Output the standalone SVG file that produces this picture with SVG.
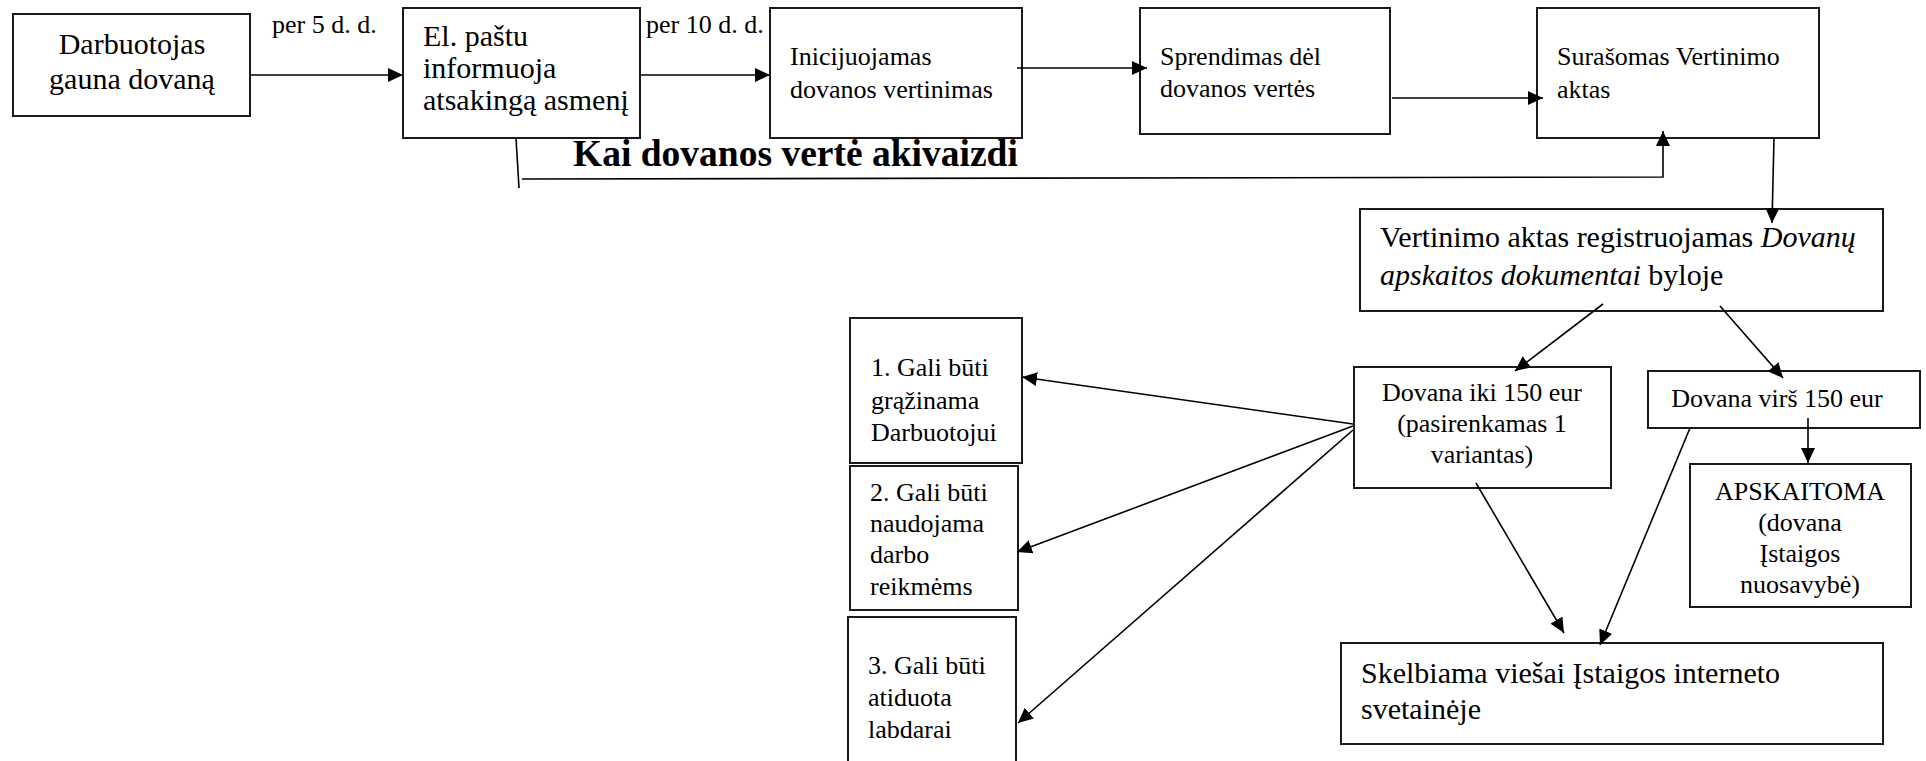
<svg xmlns="http://www.w3.org/2000/svg" width="1926" height="761" viewBox="0 0 1926 761">
<style>
  .box { fill: #ffffff; stroke: #1a1a1a; stroke-width: 2; }
  .t { font-family: "Liberation Serif", "Times New Roman", serif; fill: #000; }
  .t30 { font-size: 30px; }
  .t26 { font-size: 26px; }
  .bold { font-weight: bold; font-size: 37.5px; }
  .c { text-anchor: middle; }
  .ln { fill: none; stroke: #000; stroke-width: 1.6; }
</style>
<defs>
  <marker id="ah" markerUnits="userSpaceOnUse" markerWidth="16" markerHeight="14" refX="15" refY="7" orient="auto">
    <path d="M0,0 L15,7 L0,14 z" fill="#000"/>
  </marker>
</defs>
<rect width="1926" height="761" fill="#ffffff"/>

<g id="n1">
  <rect class="box" x="13" y="14" width="237" height="102"/>
  <text class="t t30 c" x="132" y="54">Darbuotojas</text>
  <text class="t t30 c" x="132" y="89">gauna dovaną</text>
</g>
<g id="n2">
  <rect class="box" x="403" y="8" width="237" height="130"/>
  <text class="t t30" x="423" y="46">El. paštu</text>
  <text class="t t30" x="423" y="78">informuoja</text>
  <text class="t t30" x="423" y="110">atsakingą asmenį</text>
</g>
<g id="n3">
  <rect class="box" x="770" y="8" width="252" height="130"/>
  <text class="t t26" x="790" y="65">Inicijuojamas</text>
  <text class="t t26" x="790" y="98">dovanos vertinimas</text>
</g>
<g id="n4">
  <rect class="box" x="1140" y="8" width="250" height="126"/>
  <text class="t t26" x="1160" y="65">Sprendimas dėl</text>
  <text class="t t26" x="1160" y="97">dovanos vertės</text>
</g>
<g id="n5">
  <rect class="box" x="1537" y="8" width="282" height="130"/>
  <text class="t t26" x="1557" y="65">Surašomas Vertinimo</text>
  <text class="t t26" x="1557" y="98">aktas</text>
</g>
<g id="n6">
  <rect class="box" x="1360" y="209" width="523" height="102"/>
  <text class="t t30" x="1380" y="247">Vertinimo aktas registruojamas <tspan font-style="italic">Dovanų</tspan></text>
  <text class="t t30" x="1380" y="285"><tspan font-style="italic">apskaitos dokumentai</tspan> byloje</text>
</g>
<g id="n7">
  <rect class="box" x="1354" y="367" width="257" height="121"/>
  <text class="t t26 c" x="1482" y="401">Dovana iki 150 eur</text>
  <text class="t t26 c" x="1482" y="432">(pasirenkamas 1</text>
  <text class="t t26 c" x="1482" y="463">variantas)</text>
</g>
<g id="n8">
  <rect class="box" x="1648" y="371" width="272" height="57"/>
  <text class="t t26 c" x="1777" y="407">Dovana virš 150 eur</text>
</g>
<g id="n9">
  <rect class="box" x="1690" y="464" width="221" height="143"/>
  <text class="t t26 c" x="1800" y="500">APSKAITOMA</text>
  <text class="t t26 c" x="1800" y="531">(dovana</text>
  <text class="t t26 c" x="1800" y="562">Įstaigos</text>
  <text class="t t26 c" x="1800" y="593">nuosavybė)</text>
</g>
<g id="n10">
  <rect class="box" x="1341" y="643" width="542" height="101"/>
  <text class="t t30" x="1361" y="683">Skelbiama viešai Įstaigos interneto</text>
  <text class="t t30" x="1361" y="719">svetainėje</text>
</g>
<g id="nA">
  <rect class="box" x="850" y="318" width="172" height="145"/>
  <text class="t t26" x="871" y="376">1. Gali būti</text>
  <text class="t t26" x="871" y="409">grąžinama</text>
  <text class="t t26" x="871" y="441">Darbuotojui</text>
</g>
<g id="nB">
  <rect class="box" x="850" y="466" width="168" height="144"/>
  <text class="t t26" x="870" y="501">2. Gali būti</text>
  <text class="t t26" x="870" y="532">naudojama</text>
  <text class="t t26" x="870" y="563">darbo</text>
  <text class="t t26" x="870" y="595">reikmėms</text>
</g>
<g id="nC">
  <rect class="box" x="848" y="617" width="168" height="160"/>
  <text class="t t26" x="868" y="674">3. Gali būti</text>
  <text class="t t26" x="868" y="706">atiduota</text>
  <text class="t t26" x="868" y="738">labdarai</text>
</g>

<g id="labels">
  <text class="t t26" x="272" y="33">per 5 d. d.</text>
  <text class="t t26" x="646" y="33">per 10 d. d.</text>
  <text class="t bold" x="573" y="166">Kai dovanos vertė akivaizdi</text>
</g>

<g id="connectors">
  <line class="ln" x1="250" y1="75" x2="403" y2="75" marker-end="url(#ah)"/>
  <line class="ln" x1="640" y1="75" x2="770" y2="75" marker-end="url(#ah)"/>
  <line class="ln" x1="1017" y1="68" x2="1147" y2="68" marker-end="url(#ah)"/>
  <line class="ln" x1="1392" y1="98" x2="1543" y2="98" marker-end="url(#ah)"/>
  <line class="ln" x1="516" y1="138" x2="519" y2="188"/>
  <polyline class="ln" points="522,179 1663,177 1663,131" marker-end="url(#ah)"/>
  <line class="ln" x1="1774" y1="138" x2="1772" y2="223" marker-end="url(#ah)"/>
  <line class="ln" x1="1603" y1="304" x2="1515" y2="371" marker-end="url(#ah)"/>
  <line class="ln" x1="1720" y1="306" x2="1783" y2="378" marker-end="url(#ah)"/>
  <line class="ln" x1="1808" y1="418" x2="1808" y2="463" marker-end="url(#ah)"/>
  <line class="ln" x1="1476" y1="483" x2="1564" y2="633" marker-end="url(#ah)"/>
  <line class="ln" x1="1690" y1="428" x2="1600" y2="645" marker-end="url(#ah)"/>
  <line class="ln" x1="1353" y1="424" x2="1022" y2="377" marker-end="url(#ah)"/>
  <line class="ln" x1="1353" y1="426" x2="1017" y2="552" marker-end="url(#ah)"/>
  <line class="ln" x1="1353" y1="430" x2="1018" y2="723" marker-end="url(#ah)"/>
</g>
</svg>
